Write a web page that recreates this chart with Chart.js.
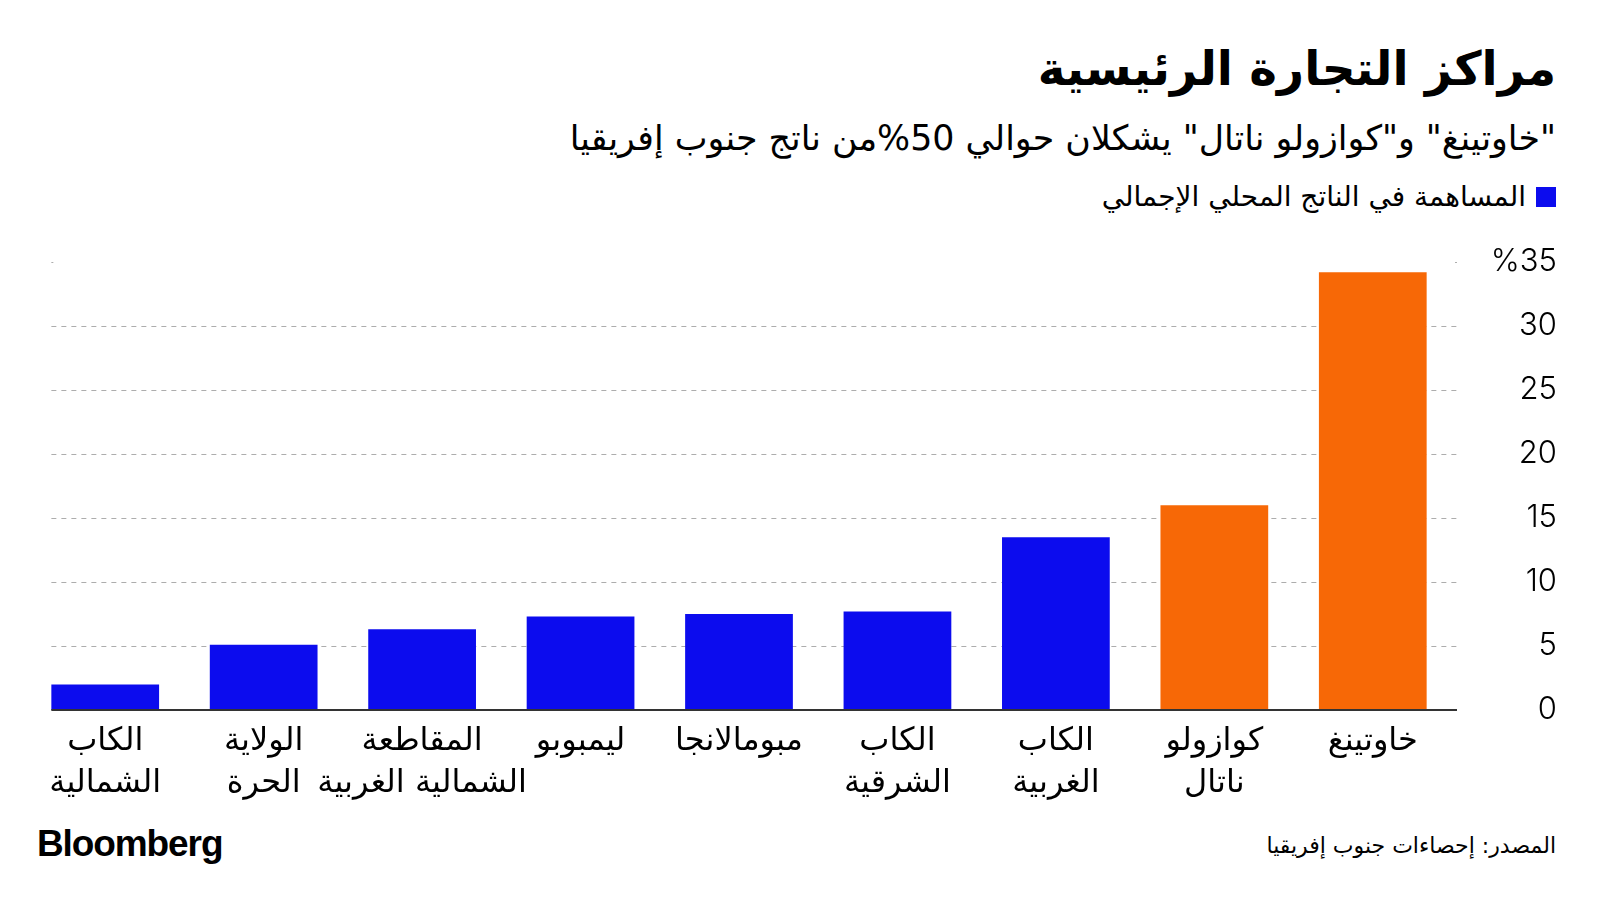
<!DOCTYPE html>
<html lang="ar">
<head>
<meta charset="utf-8">
<script src="https://cdn.jsdelivr.net/npm/chart.js@4.4.1/dist/chart.umd.min.js"></script>
<style>
  html, body { margin: 0; padding: 0; background: #fff; }
  #page { position: relative; width: 1600px; height: 900px; overflow: hidden; background: #fff; font-family: "DejaVu Sans", "Noto Sans", sans-serif; color: #000; }
  .rt { position: absolute; right: 44px; direction: rtl; text-align: right; white-space: nowrap; }
  #title { top: 36px; font-size: 47px; font-weight: bold; line-height: 66px; }
  #subtitle { top: 114px; font-size: 34.8px; line-height: 48px; }
  #legend { top: 177px; font-size: 28px; line-height: 40px; display: flex; align-items: center; gap: 10px; }
  #legend .sw { width: 20px; height: 20px; background: #0c0cee; display: inline-block; }
  #source { top: 829px; font-size: 22px; line-height: 34px; }
  #brand { position: absolute; left: 37px; top: 822px; font-family: "Liberation Sans", Arial, sans-serif; font-weight: bold; font-size: 37px; letter-spacing: -1.1px; line-height: 44px; }
  #wrap { position: absolute; left: 0; top: 240px; width: 1600px; height: 570px; }
</style>
</head>
<body>
<div id="page">
  <div id="title" class="rt">مراكز التجارة الرئيسية</div>
  <div id="subtitle" class="rt">"خاوتينغ" و"كوازولو ناتال" يشكلان حوالي 50%من ناتج جنوب إفريقيا</div>
  <div id="legend" class="rt"><span class="sw"></span><span>المساهمة في الناتج المحلي الإجمالي</span></div>
  <div id="wrap"><canvas id="c" width="1600" height="570"></canvas></div>
  <div id="brand">Bloomberg</div>
  <div id="source" class="rt">المصدر: إحصاءات جنوب إفريقيا</div>
</div>
<script>
// Categories, left to right as drawn
const categories = [
  ["الكاب", "الشمالية"],
  ["الولاية", "الحرة"],
  ["المقاطعة", "الشمالية الغربية"],
  "ليمبوبو",
  "مبومالانجا",
  ["الكاب", "الشرقية"],
  ["الكاب", "الغربية"],
  ["كوازولو", "ناتال"],
  "خاوتينغ"
];
// GDP contribution, %
const gdpShare = [2.0, 5.1, 6.3, 7.3, 7.5, 7.7, 13.5, 16.0, 34.2];
// highlighted provinces (orange)
const highlighted = [false, false, false, false, false, false, false, true, true];
const yTicks = [0, 5, 10, 15, 20, 25, 30, 35];
const seriesLabel = "المساهمة في الناتج المحلي الإجمالي";

const BLUE = "#0c0cee";
const ORANGE = "#f76806";

const gridPlugin = {
  id: "customGrid",
  beforeDatasetsDraw(chart) {
    const { ctx, chartArea, scales } = chart;
    const meta = chart.getDatasetMeta(0);
    const first = meta.data[0];
    const left = first.x - first.width / 2;
    const right = chartArea.right + 5;
    ctx.save();
    ctx.strokeStyle = "#adadad";
    ctx.lineWidth = 1;
    yTicks.forEach(v => {
      if (v === 0) return;
      const y = Math.round(scales.y.getPixelForValue(v)) + 0.5;
      ctx.beginPath();
      if (v === yTicks[yTicks.length - 1]) {
        ctx.setLineDash([]);
        ctx.moveTo(left, y); ctx.lineTo(left + 2, y);
        ctx.moveTo(right - 2, y); ctx.lineTo(right, y);
      } else {
        ctx.setLineDash([5, 5]);
        ctx.moveTo(left, y);
        ctx.lineTo(right, y);
      }
      ctx.stroke();
    });
    ctx.restore();
  },
  afterDatasetsDraw(chart) {
    const { ctx, chartArea, scales } = chart;
    const meta = chart.getDatasetMeta(0);
    const first = meta.data[0];
    const left = first.x - first.width / 2;
    const y = scales.y.getPixelForValue(0);
    ctx.save();
    ctx.strokeStyle = "#333";
    ctx.lineWidth = 2;
    ctx.beginPath();
    ctx.moveTo(left, y);
    ctx.lineTo(chartArea.right + 5, y);
    ctx.stroke();
    ctx.restore();
  }
};

new Chart(document.getElementById("c"), {
  type: "bar",
  data: {
    labels: categories,
    datasets: [{
      label: seriesLabel,
      data: gdpShare,
      backgroundColor: highlighted.map(h => h ? ORANGE : BLUE),
      borderWidth: 0,
      categoryPercentage: 1,
      barPercentage: 0.68
    }]
  },
  options: {
    responsive: false,
    animation: false,
    devicePixelRatio: 1,
    layout: { padding: { top: 22, right: 43, left: 26, bottom: 0 } },
    plugins: { legend: { display: false }, tooltip: { enabled: false } },
    scales: {
      x: {
        offset: true,
        grid: { display: false, drawTicks: false },
        border: { display: false },
        ticks: {
          color: "#000",
          padding: 11,
          maxRotation: 0,
          autoSkip: false,
          font: { family: "DejaVu Sans", size: 32, lineHeight: 1.3 }
        },
        afterFit(scale) { scale.height = 100; }
      },
      y: {
        position: "right",
        min: 0,
        max: 35,
        afterBuildTicks(scale) { scale.ticks = yTicks.map(v => ({ value: v })); },
        grid: { display: false, drawTicks: false },
        border: { display: false },
        ticks: {
          color: "#000",
          crossAlign: "far",
          padding: 0,
          font: { family: "Inter", size: 31, weight: 300 },
          callback: v => v === 35 ? "%" + v : String(v)
        },
        afterFit(scale) { scale.width = 105; }
      }
    }
  },
  plugins: [gridPlugin]
});
</script>
</body>
</html>
